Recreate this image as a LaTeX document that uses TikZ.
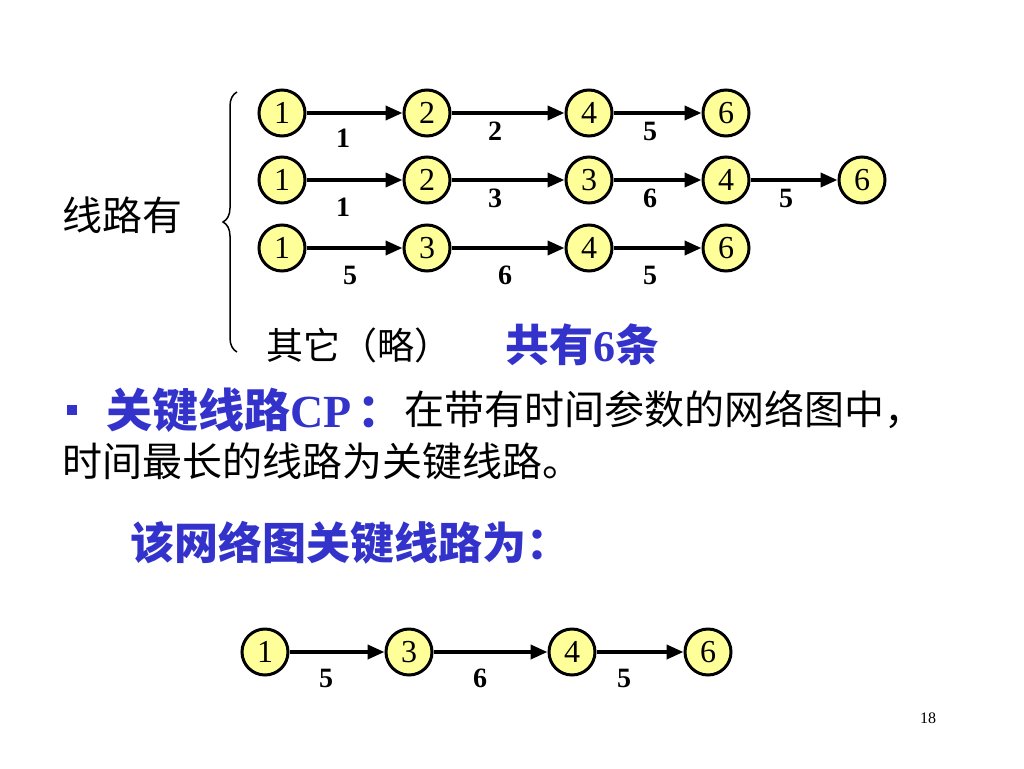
\documentclass[tikz,border=0pt]{standalone}
\usepackage{fontspec}
\setmainfont{Liberation Serif}
\newfontfamily\cjk{Noto Sans CJK SC}
\usetikzlibrary{arrows.meta, positioning, decorations.pathreplacing}
\definecolor{cpblue}{RGB}{51,51,204}
\definecolor{evfill}{RGB}{255,255,153}
\tikzset{
	ev/.style={draw, circle, fill=evfill, line width=3pt, minimum size=46pt, inner sep=0pt, font=\fontsize{32}{32}\selectfont},
	act/.style={line width=3.8pt, -{Triangle[length=17pt,width=14pt]}},
	wt/.style={font=\fontsize{28}{28}\selectfont\bfseries},
	zh/.style={anchor=west, inner sep=0pt, font=\fontsize{40}{40}\selectfont\cjk},
	zhblue/.style={anchor=west, inner sep=0pt, text=cpblue, font=\fontsize{44}{44}\selectfont\bfseries}
}

\begin{document}
\begin{tikzpicture}[x=1pt, y=-1pt]
	\useasboundingbox[fill=white] (0,0) rectangle (1024,768);
			% first line
			\node[ev] (a1) at (282,113) {1};
			\node[ev, right=96pt of a1] (a2) {2};
			\node[ev, right=113pt of a2] (a4) {4};
			\node[ev, right=88pt of a4] (a6) {6};
			\draw[act] (a1) -- (a2);
			\draw[act] (a2) -- (a4);
			\draw[act] (a4) -- (a6);
			\node[wt] (wa1) at (343,138) {1};
			\node[wt] (wa2) at (495,131) {2};
			\node[wt] (wa3) at (650,131) {5};
			% second line
			\node[ev] (b1) at (282,180) {1};
			\node[ev, right=96pt of b1] (b2) {2};
			\node[ev, right=113pt of b2] (b3) {3};
			\node[ev, right=88pt of b3] (b4) {4};
			\node[ev, right=87pt of b4] (b6) {6};
			\draw[act] (b1) -- (b2);
			\draw[act] (b2) -- (b3);
			\draw[act] (b3) -- (b4);
			\draw[act] (b4) -- (b6);
			\node[wt] (wb1) at (343,207) {1};
			\node[wt] (wb2) at (495,198) {3};
			\node[wt] (wb3) at (650,198) {6};
			\node[wt] (wb4) at (786,198) {5};
			% third line
			\node[ev] (c1) at (282,248) {1};
			\node[ev, right=96pt of c1] (c3) {3};
			\node[ev, right=113pt of c3] (c4) {4};
			\node[ev, right=88pt of c4] (c6) {6};
			\draw[act] (c1) -- (c3);
			\draw[act] (c3) -- (c4);
			\draw[act] (c4) -- (c6);
			\node[wt] (wc1) at (350,275) {5};
			\node[wt] (wc2) at (505,275) {6};
			\node[wt] (wc3) at (650,275) {5};
			% brace and texts
			\coordinate (brtop) at (237,92);
			\coordinate (brbot) at (237,352);
			\draw[line width=1.5pt, decorate, decoration={brace, amplitude=14pt}] (brbot) -- (brtop);
			\node[zh] (lines) at (62,215) {线路有};
			\node[zh, font=\fontsize{37}{37}\selectfont\cjk] (other) at (266,345) {其它（略）};
			\node[zhblue] (total) at (505,345) {{\cjk 共有}6{\cjk 条}};
			\node[fill=cpblue, minimum size=10pt, inner sep=0pt] (bullet) at (72,410) {};
			\node[zhblue, font=\fontsize{46}{46}\selectfont\bfseries] (cp) at (106,410) {{\cjk 关键线路}CP\hspace{6pt}{\cjk ：}};
			\node[zh] (def1) at (404,410) {在带有时间参数的网络图中，};
			\node[zh] (def2) at (62,461) {时间最长的线路为关键线路。};
			\node[zhblue] (crit) at (130,543) {\cjk 该网络图关键线路为：};
			% critical line
			\node[ev] (d1) at (265,652) {1};
			\node[ev, right=95pt of d1] (d3) {3};
			\node[ev, right=114pt of d3] (d4) {4};
			\node[ev, right=87pt of d4] (d6) {6};
			\draw[act] (d1) -- (d3);
			\draw[act] (d3) -- (d4);
			\draw[act] (d4) -- (d6);
			\node[wt] (wd1) at (326,678) {5};
			\node[wt] (wd2) at (480,678) {6};
			\node[wt] (wd3) at (624,678) {5};
			\node[font=\fontsize{16}{16}\selectfont] (page) at (928,718) {18};
\end{tikzpicture}
\end{document}
